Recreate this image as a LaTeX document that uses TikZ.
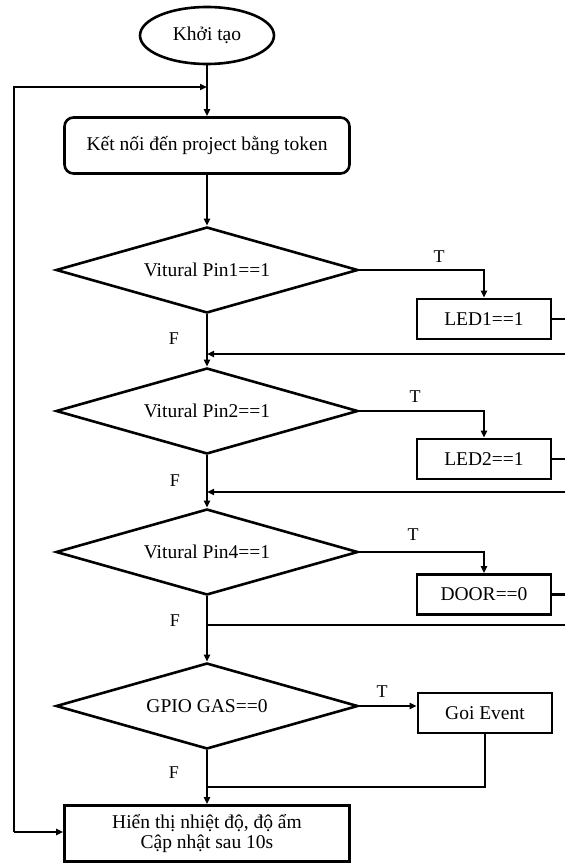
\documentclass[tikz,border=0pt]{standalone}
\usepackage{fontspec}
\setmainfont{Liberation Serif}
\usetikzlibrary{shapes.geometric,arrows.meta}
\begin{document}
\begin{tikzpicture}[x=1pt,y=-1pt,
  every node/.style={font=\fontsize{19.5}{21}\selectfont,inner sep=0pt},
  ln/.style={line width=2.6pt},
  arr/.style={ln,-{Triangle[length=7pt,width=6pt]}},
  dec/.style={draw,line width=2.6pt,diamond,minimum width=302pt,minimum height=86pt,aspect=3.5},
  bx/.style={draw,line width=2.6pt,rectangle,minimum width=134pt,minimum height=40pt},
  big/.style={draw,line width=2.6pt,rectangle,minimum width=285pt,minimum height=56pt,align=center},
  lbl/.style={font=\fontsize{18}{20}\selectfont}]
\useasboundingbox (0,0) rectangle (565,864);
\fill[white] (0,0) rectangle (565,864);
% nodes
\node[draw,line width=2.6pt,ellipse,minimum width=134pt,minimum height=57pt] (ell) at (207,35.5) {Khởi tạo};
\node[big,rounded corners=9pt] (kb) at (207,145.5) {Kết nối đến project bằng token};
\node[dec] (d1) at (207,270) {Vitural Pin1==1};
\node[dec] (d2) at (207,411) {Vitural Pin2==1};
\node[dec] (d3) at (207,552) {Vitural Pin4==1};
\node[dec] (d4) at (207,706) {GPIO GAS==0};
\node[bx] (l1) at (484,319) {LED1==1};
\node[bx] (l2) at (484,459) {LED2==1};
\node[bx] (dr) at (484,594.5) {DOOR==0};
\node[bx] (ge) at (485,713) {Goi Event};
\node[big] (fin) at (207,833.5) {Hiển thị nhiệt độ, độ ẩm\\[-1pt]Cập nhật sau 10s};
% labels
\node[lbl] (t1) at (439,257) {T};
\node[lbl] (t2) at (415,397) {T};
\node[lbl] (t3) at (413,535) {T};
\node[lbl] (t4) at (382,692) {T};
\node[lbl] (f1) at (174,339) {F};
\node[lbl] (f2) at (175,481) {F};
\node[lbl] (f3) at (175,621) {F};
\node[lbl] (f4) at (174,773) {F};
% coordinates
\coordinate (j0) at (207,87);
\coordinate (lt) at (14,87);
\coordinate (lb) at (14,832);
\coordinate (r1a) at (565,319);
\coordinate (r1b) at (565,354);
\coordinate (j1) at (207,354);
\coordinate (r2a) at (565,459);
\coordinate (r2b) at (565,492);
\coordinate (j2) at (207,492);
\coordinate (r3a) at (565,594.5);
\coordinate (r3b) at (565,625);
\coordinate (j3) at (207,625);
\coordinate (j4) at (207,787);
% main flow
\draw[arr] (ell) -- (kb);
\draw[arr] (lb) -- (lt) -- (j0);
\draw[arr] (lb) -- (fin.west |- lb);
\draw[arr] (kb) -- (d1);
\draw[arr] (d1) -- (d2);
\draw[arr] (d2) -- (d3);
\draw[arr] (d3) -- (d4);
\draw[arr] (d4) -- (fin);
% branches
\draw[arr] (d1.east) -| (l1.north);
\draw[arr] (d2.east) -| (l2.north);
\draw[arr] (d3.east) -| (dr.north);
\draw[arr] (d4.east) -- (d4.east -| ge.west);
\draw[ln] (l1.east) -- (r1a);
\draw[ln] (l2.east) -- (r2a);
\draw[ln] (dr.east) -- (r3a);
\draw[arr] (r1b) -- (j1);
\draw[arr] (r2b) -- (j2);
\draw[ln] (r3b) -- (j3);
\draw[ln] (ge.south) |- (j4);
\end{tikzpicture}
\end{document}
